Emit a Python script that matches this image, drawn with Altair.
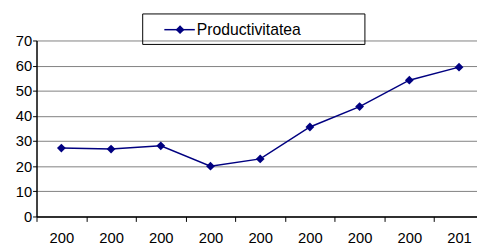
import altair as alt
import pandas as pd

years = ["2002", "2003", "2004", "2005", "2006", "2007", "2008", "2009", "2010"]
values = [27.2, 26.8, 28.1, 20.0, 22.9, 35.6, 43.7, 54.2, 59.4]
series_name = "Productivitatea"
y_ticks = [0, 10, 20, 30, 40, 50, 60, 70]

df = pd.DataFrame({"year": years, "value": values})

NAVY = "#000080"
FONT = "Liberation Sans"

x_enc = alt.X(
    "year:O",
    scale=alt.Scale(type="band", paddingInner=0, paddingOuter=0),
    axis=alt.Axis(
        title=None, labelAngle=0, tickBand="extent", grid=False,
        labelExpr="substring(datum.label, 0, 3)",
        labelFontSize=15, labelColor="#000", labelFont=FONT,
        labelPadding=9, tickSize=5, tickColor="#000",
        domainColor="#000", domainWidth=1.5,
    ),
)
y_enc = alt.Y(
    "value:Q",
    scale=alt.Scale(domain=[0, 70], nice=False, zero=True),
    axis=alt.Axis(
        title=None, values=y_ticks, grid=True, gridColor="#808080",
        gridWidth=1, labelFontSize=15, labelColor="#000", labelFont=FONT,
        tickSize=4, tickColor="#000", labelPadding=1, labelOverlap=False,
        domainColor="#000", domainWidth=1.5,
    ),
)

base = alt.Chart(df).encode(x=x_enc, y=y_enc)
line = base.mark_line(color=NAVY, strokeWidth=1.5)
pts = base.mark_point(shape="diamond", filled=True, color=NAVY, size=80, opacity=1)

leg_df = pd.DataFrame({"name": [series_name]})
box = alt.Chart(leg_df).mark_rect(
    fillOpacity=0, stroke="#000", strokeWidth=1
).encode(x=alt.value(108), x2=alt.value(334), y=alt.value(-27), y2=alt.value(4))
leg_line = alt.Chart(leg_df).mark_rule(color=NAVY, strokeWidth=1.5).encode(
    x=alt.value(130), x2=alt.value(161), y=alt.value(-11)
)
leg_pt = alt.Chart(leg_df).mark_point(
    shape="diamond", filled=True, color=NAVY, size=80, opacity=1
).encode(x=alt.value(146), y=alt.value(-11))
leg_txt = alt.Chart(leg_df).mark_text(
    align="left", baseline="middle", fontSize=16, font=FONT, color="#000"
).encode(x=alt.value(163), y=alt.value(-11), text="name:N")

chart = alt.layer(line, pts, box, leg_line, leg_pt, leg_txt).properties(
    width=455, height=179,
    autosize=alt.AutoSizeParams(type="none"),
    padding={"left": 29, "top": 31, "right": -7, "bottom": 30},
).configure_view(stroke=None)

chart.save("out.html", embed_options={"renderer": "svg", "actions": False})
